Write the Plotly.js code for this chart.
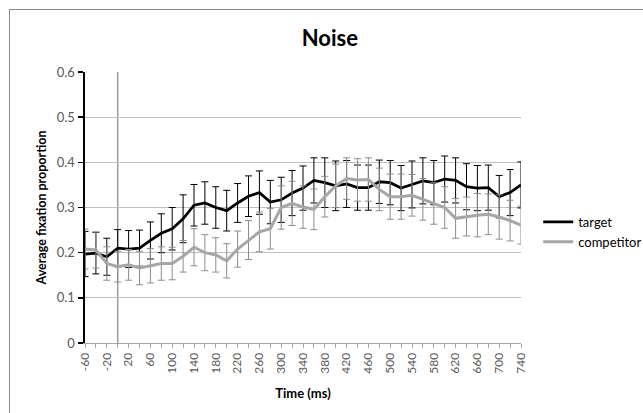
<!DOCTYPE html>
<html>
<head>
<meta charset="utf-8">
<script src="https://cdn.plot.ly/plotly-3.0.1.min.js"></script>
<style>
  html, body { margin: 0; padding: 0; background: #ffffff; overflow: hidden; }
  #chart { position: absolute; left: 0; top: 0; width: 643px; height: 413px; }
  #frame { position: absolute; left: 9px; top: 9px; width: 720px; height: 520px; border: 1px solid #8c8c8c; pointer-events: none; }
</style>
</head>
<body>
<div id="chart"></div>
<div id="frame"></div>
<script>
// ---- Data ----
const timeMs = [-60, -40, -20, 0, 20, 40, 60, 80, 100, 120, 140, 160, 180, 200, 220, 240, 260, 280, 300, 320,
                340, 360, 380, 400, 420, 440, 460, 480, 500, 520, 540, 560, 580, 600, 620, 640, 660, 680, 700, 720, 740];

const targetMean = [0.197, 0.199, 0.191, 0.210, 0.208, 0.210, 0.227, 0.243, 0.253, 0.275, 0.305, 0.310, 0.300, 0.293,
                    0.310, 0.325, 0.333, 0.312, 0.317, 0.332, 0.343, 0.360, 0.355, 0.348, 0.352, 0.344, 0.344,
                    0.357, 0.355, 0.343, 0.351, 0.359, 0.355, 0.363, 0.360, 0.346, 0.343, 0.344, 0.324, 0.333, 0.350];
const targetErr = [0.050, 0.046, 0.041, 0.041, 0.041, 0.040, 0.041, 0.043, 0.047, 0.053, 0.046, 0.047, 0.046, 0.045,
                   0.043, 0.045, 0.048, 0.048, 0.050, 0.050, 0.049, 0.050, 0.055, 0.055, 0.052, 0.050, 0.050,
                   0.048, 0.049, 0.050, 0.052, 0.051, 0.049, 0.051, 0.050, 0.051, 0.050, 0.050, 0.047, 0.051, 0.051];

const competitorMean = [0.208, 0.206, 0.176, 0.169, 0.173, 0.166, 0.171, 0.176, 0.176, 0.192, 0.212, 0.200, 0.195, 0.182,
                        0.208, 0.228, 0.246, 0.253, 0.300, 0.309, 0.301, 0.296, 0.324, 0.348, 0.364, 0.361, 0.362,
                        0.340, 0.324, 0.324, 0.327, 0.318, 0.309, 0.300, 0.276, 0.280, 0.283, 0.285, 0.279, 0.271, 0.261];
const competitorErr = [0.044, 0.040, 0.037, 0.034, 0.034, 0.037, 0.038, 0.037, 0.036, 0.035, 0.041, 0.040, 0.038, 0.038,
                       0.040, 0.043, 0.044, 0.045, 0.048, 0.049, 0.047, 0.045, 0.045, 0.048, 0.046, 0.047, 0.048,
                       0.047, 0.050, 0.050, 0.046, 0.046, 0.046, 0.046, 0.044, 0.043, 0.048, 0.045, 0.049, 0.045, 0.042];

const seriesNames = ['target', 'competitor'];
const tickTimes = [-60, -20, 20, 60, 100, 140, 180, 220, 260, 300, 340, 380, 420, 460, 500, 540, 580, 620, 660, 700, 740];
const tickLabels = ['-60', '-20', '20', '60', '100', '140', '180', '220', '260', '300', '340', '380', '420', '460',
                    '500', '540', '580', '620', '660', '700', '740'];
const onsetTime = 0;

// ---- Styling ----
const FONT = "Lato, 'Open Sans', 'Noto Sans', sans-serif";
const targetColor = '#000000';
const competitorColor = '#a6a6a6';

const traces = [
  {
    type: 'scatter', mode: 'lines', name: seriesNames[0],
    x: timeMs, y: targetMean,
    line: { color: targetColor, width: 2.75 },
    error_y: { type: 'data', array: targetErr, visible: true, color: '#000000', thickness: 1, width: 3.5 },
    cliponaxis: false
  },
  {
    type: 'scatter', mode: 'lines', name: seriesNames[1],
    x: timeMs, y: competitorMean,
    line: { color: competitorColor, width: 3 },
    error_y: { type: 'data', array: competitorErr, visible: true, color: '#8c8c8c', thickness: 1, width: 3.5 },
    cliponaxis: false
  }
];

const layout = {
  width: 643, height: 413,
  margin: { l: 85, r: 122, t: 72, b: 70, pad: 0, autoexpand: false },
  paper_bgcolor: 'rgba(0,0,0,0)', plot_bgcolor: '#ffffff',
  font: { family: FONT, size: 13, color: '#595959' },
  title: {
    text: '<b>Noise</b>',
    font: { family: FONT, size: 22, color: '#000000' },
    x: 0.513, xanchor: 'center', xref: 'container',
    y: 0.908, yanchor: 'middle', yref: 'container'
  },
  xaxis: {
    type: 'linear',
    range: [timeMs[0], timeMs[timeMs.length - 1]],
    tickmode: 'array', tickvals: tickTimes, ticktext: tickLabels,
    tickangle: -90,
    tickfont: { family: FONT, size: 12, color: '#595959' },
    ticks: 'outside', ticklen: 4, tickcolor: '#a6a6a6', tickwidth: 1,
    minor: { dtick: 20, tick0: -60, ticks: 'outside', ticklen: 4, tickcolor: '#a6a6a6', tickwidth: 1, showgrid: false },
    showline: true, linecolor: '#a6a6a6', linewidth: 1,
    showgrid: false, zeroline: false,
    automargin: false,
    title: { text: '<b>Time (ms)</b>', font: { family: FONT, size: 13, color: '#000000' }, standoff: 16 }
  },
  yaxis: {
    range: [0, 0.6], dtick: 0.1, tick0: 0,
    tickfont: { family: FONT, size: 13, color: '#595959' },
    ticks: 'outside', ticklen: 5, tickcolor: '#000000', tickwidth: 1.5,
    showline: true, linecolor: '#000000', linewidth: 2.5,
    showgrid: true, gridcolor: '#c0c0c0', gridwidth: 1,
    zeroline: false,
    automargin: false,
    title: { text: '<b>Average fixation proportion</b>', font: { family: FONT, size: 12.5, color: '#000000' }, standoff: 8 }
  },
  shapes: [
    { type: 'line', xref: 'x', yref: 'y', x0: onsetTime, x1: onsetTime, y0: 0, y1: 0.6,
      line: { color: '#9a9a9a', width: 1.5 }, layer: 'below' }
  ],
  showlegend: true,
  legend: {
    xref: 'container', yref: 'container',
    x: 0.837, xanchor: 'left', y: 0.499, yanchor: 'top',
    font: { family: FONT, size: 13, color: '#000000' },
    bgcolor: 'rgba(0,0,0,0)', borderwidth: 0,
    itemwidth: 30, tracegroupgap: 0
  }
};

Plotly.newPlot('chart', traces, layout, { displayModeBar: false, staticPlot: true });
</script>
</body>
</html>
